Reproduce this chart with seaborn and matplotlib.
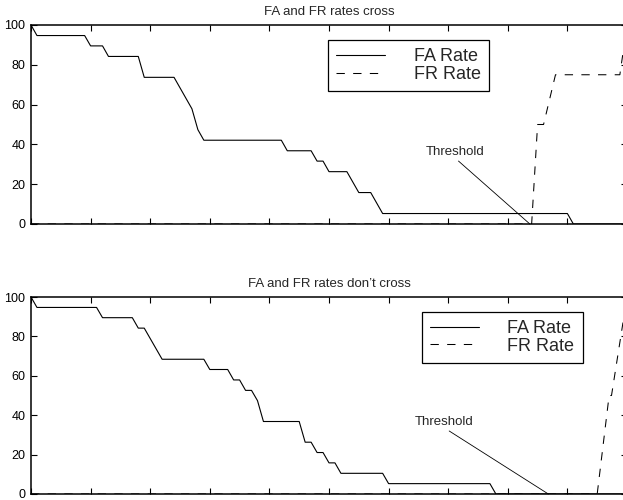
import matplotlib
matplotlib.use('Agg')
from matplotlib import pyplot as plt
import numpy as np
import seaborn as sns

# top panel: FA and FR rates cross
top_fa_x = [0.0, 0.01, 0.09, 0.10, 0.12, 0.13, 0.18, 0.19, 0.24, 0.27, 0.28, 0.29,
            0.42, 0.43, 0.47, 0.48, 0.49, 0.50, 0.53, 0.55, 0.57, 0.59, 0.90, 0.91, 1.0]
top_fa_y = [100, 94.7, 94.7, 89.5, 89.5, 84.2, 84.2, 73.7, 73.7, 57.9, 47.4, 42.1,
            42.1, 36.8, 36.8, 31.6, 31.6, 26.3, 26.3, 15.8, 15.8, 5.26, 5.26, 0, 0]
top_fr_x = [0.0, 0.84, 0.85, 0.86, 0.88, 0.988, 1.0]
top_fr_y = [0, 0, 50, 50, 75, 75, 100]
top_threshold = 0.837
top_label_pos = (0.711, 36.3)

# bottom panel: FA and FR rates don't cross
bot_fa_x = [0.0, 0.01, 0.11, 0.12, 0.17, 0.18, 0.19, 0.22, 0.29, 0.30, 0.33, 0.34,
            0.35, 0.36, 0.37, 0.38, 0.39, 0.45, 0.46, 0.47, 0.48, 0.49, 0.50, 0.51,
            0.52, 0.59, 0.60, 0.77, 0.78, 1.0]
bot_fa_y = [100, 94.7, 94.7, 89.5, 89.5, 84.2, 84.2, 68.4, 68.4, 63.2, 63.2, 57.9,
            57.9, 52.6, 52.6, 47.4, 36.8, 36.8, 26.3, 26.3, 21.05, 21.05, 15.8, 15.8,
            10.5, 10.5, 5.26, 5.26, 0, 0]
bot_fr_x = [0.0, 0.95, 0.97, 0.974, 1.0]
bot_fr_y = [0, 0, 50, 50, 100]
bot_threshold = 0.868
bot_label_pos = (0.693, 36.7)

titles = ["FA and FR rates cross", "FA and FR rates don\u2019t cross"]
legend_anchor = [(0.498, 0.925), (0.6555, 0.925)]

sns.set_style('ticks')
plt.rcParams['font.family'] = ['Liberation Sans', 'DejaVu Sans']

fig = plt.figure(figsize=(6.23, 5.0), dpi=100)
ax_top = fig.add_axes([31 / 623, 0.552, 596 / 623, 0.398])
ax_bot = fig.add_axes([31 / 623, 0.012, 596 / 623, 0.394])

panels = [
    (ax_top, top_fa_x, top_fa_y, top_fr_x, top_fr_y, top_threshold, top_label_pos),
    (ax_bot, bot_fa_x, bot_fa_y, bot_fr_x, bot_fr_y, bot_threshold, bot_label_pos),
]

for i, (ax, fa_x, fa_y, fr_x, fr_y, thr, lab) in enumerate(panels):
    sns.lineplot(x=fa_x, y=fa_y, ax=ax, color='black', lw=0.8,
                 label='FA Rate', sort=False)
    sns.lineplot(x=fr_x, y=fr_y, ax=ax, color='black', lw=0.75,
                 linestyle=(0, (8, 8)), label='FR Rate', sort=False)

    ax.annotate("Threshold", xy=(thr, 0), xytext=lab, fontsize=9.5,
                ha='center', va='center',
                arrowprops=dict(arrowstyle='-', color='black', lw=0.6,
                                shrinkA=0, shrinkB=0, relpos=(0.5, 0)))

    ax.set_xlim(0, 1)
    ax.set_ylim(0, 100)
    ax.set_xticks(np.arange(0, 1.01, 0.1))
    ax.set_xticklabels([])
    ax.set_yticks([0, 20, 40, 60, 80, 100])
    ax.tick_params(direction='in', length=4, width=0.8, top=True, right=True,
                   labelsize=9, pad=4, colors='black')
    for sp in ax.spines.values():
        sp.set_visible(True)
        sp.set_color('black')
        sp.set_linewidth(1.1)
    ax.set_title(titles[i], fontsize=9.5, pad=7)

    leg = ax.legend(loc='upper left', bbox_to_anchor=legend_anchor[i],
                    frameon=True, fancybox=False, edgecolor='black',
                    framealpha=1, fontsize=13, handlelength=2.7,
                    handletextpad=1.6, borderpad=0.45, labelspacing=0.05,
                    borderaxespad=0)
    leg.get_frame().set_linewidth(0.9)

plt.savefig("out.png", dpi=100)
plt.close()
